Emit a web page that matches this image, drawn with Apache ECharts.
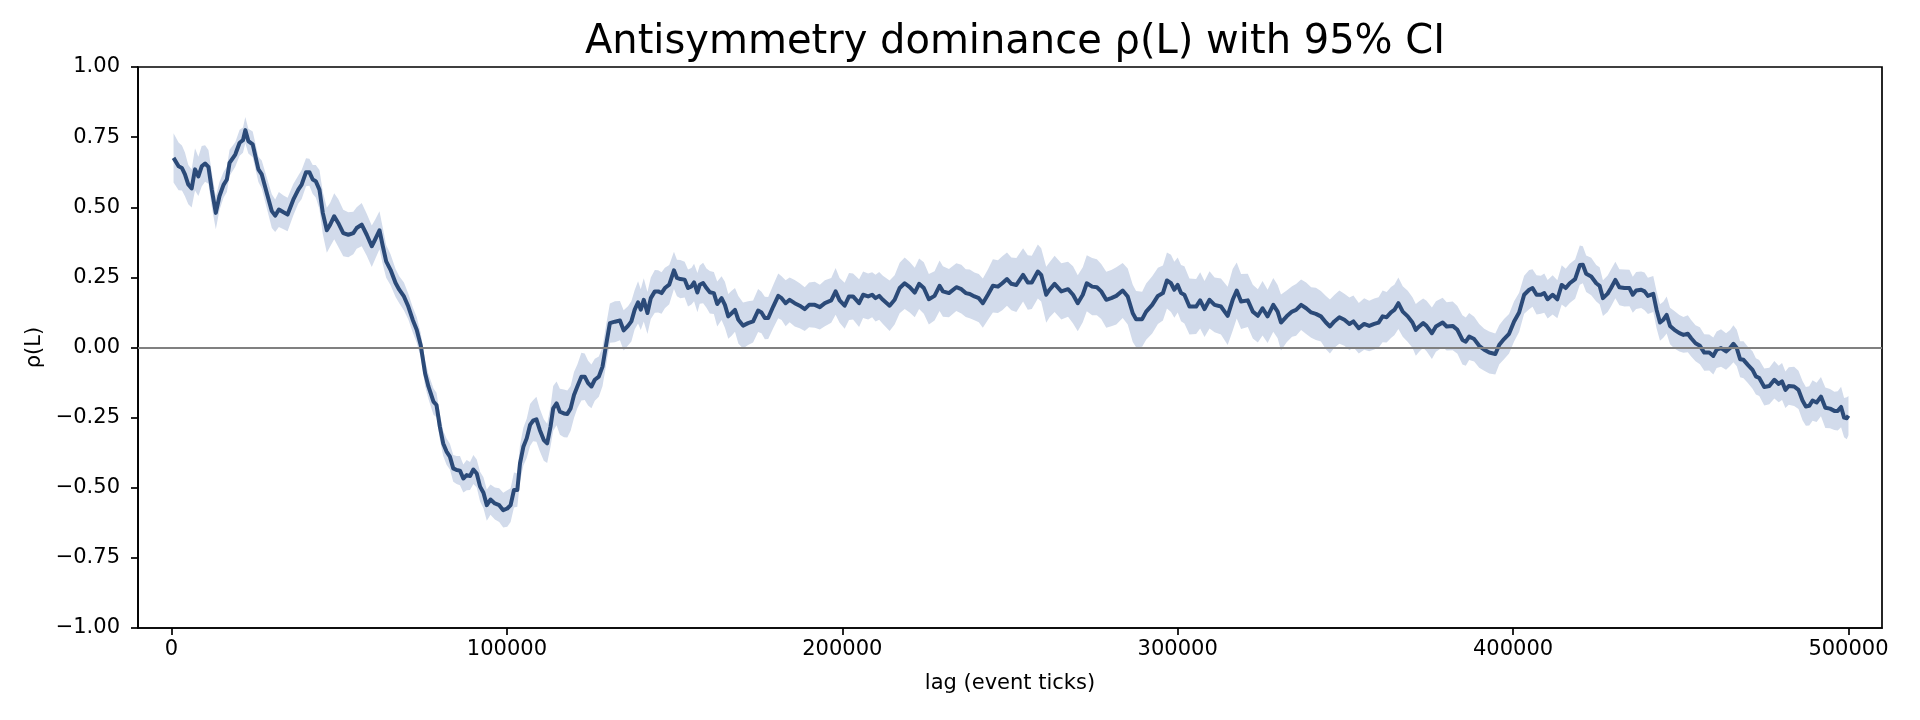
<!DOCTYPE html>
<html>
<head>
<meta charset="utf-8">
<script src="https://cdn.jsdelivr.net/npm/echarts@6/dist/echarts.min.js"></script>
<style>
html,body{margin:0;padding:0;background:#fff;}
#chart{width:1920px;height:720px;}
</style>
</head>
<body>
<div id="chart"></div>
<script>
// ---- data ----
const lagTicks = [
600,2100,3100,4000,5000,6000,7000,8000,9000,10000,
11000,12000,13200,14300,15500,16500,17300,19000,20300,21300,
22000,22900,24200,25900,26900,28400,29900,30900,32000,33400,
34600,36300,37800,38800,40100,41100,42100,43000,44100,45100,
46300,47300,48500,49700,51200,52700,54200,55200,56700,58200,
59700,60700,62000,63000,64000,65300,66800,67900,69300,70600,
71900,73100,74300,75600,76600,78100,79000,80000,81000,82000,
83000,84000,85000,86000,87000,88000,89000,90000,91000,92000,
93000,94000,95100,96400,97700,98900,100100,101100,102100,103100,
103900,104900,105900,106900,107800,108800,109800,111000,112000,113000,
113800,114800,115800,117000,118000,119000,120000,121000,122200,123200,
124200,125200,126200,127400,128500,129500,130700,132200,133700,134800,
136100,137100,138100,139100,139900,140800,141900,142900,144100,145100,
146100,147100,148400,149800,150700,151700,153000,154000,155000,155800,
156800,157500,158500,159500,160500,161700,162700,164000,165000,166000,
167000,168000,169000,170400,171900,173400,174900,175900,176900,177900,
179400,180900,181900,183100,184300,185800,187300,188800,190100,191800,
193300,194800,196700,198000,199200,200700,202000,203200,205000,206200,
207700,208900,209900,211000,212100,214100,215600,217100,218600,220100,
221600,222900,224300,225800,227500,229000,230000,231800,234000,235500,
236800,238000,239400,240700,241900,243400,244900,246400,247700,249100,
250400,251900,253900,255300,256500,258300,259300,260800,261800,263300,
265300,267300,268800,270200,271700,272900,274500,275900,277200,278700,
280200,281700,283600,285100,286600,287600,289400,290600,292400,294100,
295600,296800,298000,299000,300000,301000,302000,303500,305500,306700,
308000,309500,311000,312900,314900,316400,317600,318900,320900,322400,
323900,325300,326800,328500,329800,330800,332500,334100,335300,336800,
338300,339800,341200,342700,344200,345400,346700,348200,349700,351200,
352400,354000,355600,357100,358600,359900,361100,362300,363600,364600,
365800,367100,368600,370000,371000,372000,373200,374200,375800,377000,
379000,380200,382000,383400,384900,385900,386900,388400,389900,391400,
392900,394700,395900,397300,398800,400300,401800,403300,404800,405800,
407000,408300,409300,410300,411800,413200,414500,415700,416900,418500,
419900,420800,421800,423300,424800,425800,426800,428200,429200,430500,
431700,433200,434700,435700,436700,438200,439200,440200,441800,442800,
443800,444800,445800,446800,448100,449600,450800,452100,453100,454400,
455700,457000,458500,459700,460700,462000,463500,464700,465700,466700,
467700,468700,470000,471400,472400,473400,474900,476400,477900,479200,
480200,481200,482200,483800,485100,486300,487300,488300,489300,490500,
491800,493100,494500,495800,496800,497800,498700,499500,500000
];

const rhoValues = [
0.676,0.646,0.64,0.617,0.581,0.567,0.635,0.61,0.646,0.656,
0.644,0.563,0.48,0.54,0.58,0.599,0.658,0.688,0.73,0.739,
0.775,0.736,0.724,0.635,0.617,0.551,0.486,0.47,0.492,0.482,
0.474,0.527,0.563,0.581,0.625,0.625,0.599,0.593,0.563,0.48,
0.418,0.438,0.468,0.444,0.408,0.402,0.408,0.426,0.438,0.402,
0.361,0.385,0.418,0.361,0.307,0.277,0.23,0.206,0.182,0.146,
0.099,0.063,0.008,-0.092,-0.139,-0.193,-0.205,-0.282,-0.342,-0.371,
-0.389,-0.431,-0.437,-0.439,-0.467,-0.455,-0.458,-0.435,-0.449,-0.496,
-0.518,-0.562,-0.542,-0.556,-0.562,-0.58,-0.574,-0.562,-0.508,-0.508,
-0.413,-0.354,-0.324,-0.276,-0.261,-0.256,-0.294,-0.33,-0.342,-0.282,
-0.217,-0.199,-0.229,-0.235,-0.237,-0.217,-0.169,-0.139,-0.104,-0.104,
-0.127,-0.139,-0.115,-0.104,-0.068,0.004,0.087,0.092,0.096,0.061,
0.077,0.093,0.135,0.161,0.135,0.17,0.123,0.176,0.2,0.2,
0.194,0.212,0.224,0.275,0.248,0.244,0.242,0.212,0.218,0.232,
0.196,0.224,0.23,0.212,0.197,0.194,0.155,0.176,0.152,0.111,
0.122,0.134,0.099,0.078,0.087,0.093,0.132,0.125,0.105,0.105,
0.146,0.184,0.176,0.158,0.17,0.158,0.149,0.137,0.152,0.152,
0.144,0.158,0.168,0.2,0.168,0.149,0.182,0.182,0.158,0.188,
0.182,0.188,0.176,0.184,0.17,0.149,0.17,0.212,0.229,0.215,
0.196,0.227,0.212,0.172,0.184,0.22,0.2,0.194,0.215,0.208,
0.194,0.191,0.182,0.176,0.158,0.188,0.22,0.217,0.229,0.244,
0.227,0.223,0.259,0.232,0.232,0.271,0.259,0.188,0.206,0.227,
0.2,0.208,0.188,0.158,0.188,0.229,0.217,0.215,0.2,0.17,
0.176,0.184,0.203,0.182,0.122,0.101,0.101,0.128,0.152,0.184,
0.194,0.239,0.229,0.206,0.223,0.194,0.188,0.146,0.146,0.168,
0.137,0.17,0.152,0.146,0.113,0.17,0.203,0.164,0.168,0.128,
0.113,0.14,0.111,0.152,0.128,0.089,0.111,0.128,0.134,0.152,
0.14,0.125,0.12,0.111,0.089,0.075,0.093,0.108,0.099,0.084,
0.093,0.069,0.084,0.077,0.084,0.089,0.111,0.108,0.125,0.134,
0.158,0.128,0.111,0.089,0.063,0.075,0.087,0.077,0.051,0.075,
0.089,0.075,0.077,0.063,0.027,0.021,0.039,0.03,0.006,-0.008,
-0.018,-0.023,0.01,0.03,0.049,0.093,0.125,0.188,0.206,0.212,
0.188,0.188,0.194,0.172,0.188,0.172,0.223,0.212,0.229,0.244,
0.294,0.295,0.263,0.253,0.229,0.22,0.176,0.192,0.212,0.241,
0.215,0.212,0.212,0.188,0.203,0.206,0.2,0.184,0.191,0.134,
0.089,0.099,0.116,0.077,0.063,0.051,0.045,0.049,0.033,0.015,
0.006,-0.018,-0.018,-0.03,-0.008,-0.002,-0.014,-0.002,0.013,-0.002,
-0.042,-0.044,-0.062,-0.08,-0.103,-0.109,-0.141,-0.137,-0.115,-0.13,
-0.121,-0.151,-0.137,-0.139,-0.151,-0.189,-0.21,-0.208,-0.189,-0.196,
-0.175,-0.215,-0.218,-0.226,-0.226,-0.212,-0.25,-0.252,-0.243
];

// half-width of the 95% CI band at each lag
const ciHalfWidth = [
0.088,0.085,0.08,0.078,0.07,0.068,0.075,0.07,0.072,0.065,
0.06,0.062,0.058,0.05,0.046,0.045,0.047,0.044,0.046,0.045,
0.047,0.044,0.046,0.045,0.05,0.055,0.06,0.058,0.062,0.06,
0.06,0.056,0.05,0.052,0.05,0.048,0.052,0.058,0.07,0.075,
0.08,0.078,0.082,0.085,0.083,0.08,0.076,0.074,0.077,0.075,
0.074,0.07,0.068,0.065,0.058,0.055,0.05,0.048,0.05,0.046,
0.045,0.046,0.044,0.046,0.045,0.047,0.044,0.046,0.045,0.047,
0.046,0.048,0.05,0.052,0.05,0.054,0.05,0.052,0.05,0.053,
0.055,0.056,0.054,0.057,0.06,0.062,0.065,0.06,0.062,0.06,
0.065,0.068,0.07,0.075,0.073,0.08,0.076,0.074,0.07,0.072,
0.08,0.078,0.082,0.085,0.084,0.08,0.082,0.078,0.085,0.083,
0.08,0.078,0.075,0.072,0.07,0.072,0.07,0.073,0.07,0.072,
0.07,0.072,0.07,0.075,0.073,0.077,0.075,0.074,0.076,0.075,
0.074,0.072,0.07,0.066,0.065,0.068,0.064,0.066,0.065,0.067,
0.07,0.068,0.072,0.07,0.076,0.075,0.08,0.078,0.082,0.08,
0.08,0.078,0.085,0.082,0.078,0.075,0.077,0.074,0.076,0.075,
0.077,0.08,0.078,0.082,0.08,0.083,0.08,0.078,0.08,0.082,
0.08,0.082,0.08,0.083,0.08,0.082,0.084,0.082,0.085,0.083,
0.082,0.08,0.083,0.085,0.086,0.09,0.088,0.09,0.092,0.09,
0.088,0.09,0.092,0.09,0.088,0.09,0.09,0.086,0.085,0.087,
0.085,0.087,0.085,0.086,0.088,0.09,0.095,0.094,0.096,0.095,
0.094,0.096,0.095,0.097,0.095,0.096,0.095,0.1,0.098,0.1,
0.1,0.098,0.102,0.1,0.098,0.1,0.102,0.1,0.098,0.1,
0.1,0.102,0.098,0.1,0.102,0.1,0.098,0.1,0.102,0.1,
0.098,0.1,0.102,0.1,0.098,0.1,0.102,0.1,0.098,0.1,
0.1,0.102,0.098,0.1,0.104,0.11,0.1,0.098,0.095,0.096,
0.095,0.097,0.095,0.096,0.095,0.1,0.092,0.09,0.092,0.09,
0.092,0.09,0.093,0.09,0.095,0.096,0.094,0.095,0.093,0.094,
0.092,0.09,0.092,0.09,0.091,0.09,0.092,0.09,0.091,0.09,
0.092,0.09,0.091,0.09,0.092,0.09,0.088,0.09,0.092,0.09,
0.088,0.086,0.087,0.085,0.088,0.086,0.084,0.08,0.078,0.075,
0.075,0.073,0.07,0.072,0.07,0.072,0.07,0.068,0.07,0.067,
0.07,0.068,0.07,0.069,0.07,0.068,0.07,0.069,0.07,0.07,
0.07,0.066,0.065,0.067,0.065,0.066,0.064,0.065,0.066,0.065,
0.064,0.066,0.065,0.064,0.066,0.065,0.067,0.065,0.064,0.066,
0.065,0.064,0.066,0.065,0.067,0.065,0.064,0.066,0.065,0.064,
0.066,0.065,0.064,0.066,0.065,0.067,0.065,0.064,0.066,0.065,
0.064,0.066,0.065,0.067,0.065,0.064,0.066,0.065,0.067,0.065,
0.066,0.065,0.067,0.07,0.068,0.07,0.069,0.07,0.072,0.07,
0.07,0.072,0.07,0.068,0.07,0.072,0.07,0.075,0.07
];

const xTickValues = [0, 100000, 200000, 300000, 400000, 500000];
const titleText = 'Antisymmetry dominance ρ(L) with 95% CI';
const xAxisTitle = 'lag (event ticks)';
const yAxisTitle = 'ρ(L)';

// ---- build series data ----
const lineData = lagTicks.map((x, i) => [x, rhoValues[i]]);
const bandData = lagTicks.map((x, i) => [x, rhoValues[i] - ciHalfWidth[i], rhoValues[i] + ciHalfWidth[i]]);

const FONT = 'DejaVu Sans';
const chart = echarts.init(document.getElementById('chart'), null, {renderer: 'canvas'});

function renderBand(params, api) {
  if (params.dataIndex !== 0) return null;
  const upper = [];
  const lower = [];
  for (let i = 0; i < bandData.length; i++) {
    lower.push(api.coord([bandData[i][0], bandData[i][1]]));
    upper.push(api.coord([bandData[i][0], bandData[i][2]]));
  }
  const pts = lower.concat(upper.reverse());
  return {
    type: 'polygon',
    shape: {points: pts},
    style: {fill: '#d2dbeb', stroke: null},
    silent: true
  };
}

chart.setOption({
  animation: false,
  backgroundColor: '#ffffff',
  textStyle: {fontFamily: FONT},
  title: {
    text: titleText,
    left: 1010,
    top: 18,
    textAlign: 'center',
    textStyle: {fontFamily: FONT, fontSize: 40, fontWeight: 'normal', color: '#000'}
  },
  grid: {
    left: 138, right: 38, top: 67, bottom: 92,
    show: true, borderColor: '#000', borderWidth: 1.7, backgroundColor: 'transparent'
  },
  xAxis: {
    type: 'value',
    min: -10000, max: 510000,
    name: xAxisTitle,
    nameLocation: 'middle',
    nameGap: 45,
    nameTextStyle: {fontFamily: FONT, fontSize: 21, color: '#000'},
    splitLine: {show: false},
    axisLine: {show: true, onZero: false, lineStyle: {color: '#000', width: 1.7}},
    axisTick: {show: true, customValues: xTickValues, length: 7, lineStyle: {color: '#000', width: 1.7}},
    axisLabel: {
      customValues: xTickValues, margin: 11,
      fontFamily: FONT, fontSize: 21, color: '#000',
      formatter: v => String(v)
    }
  },
  yAxis: {
    type: 'value',
    min: -1, max: 1, interval: 0.25,
    name: yAxisTitle,
    nameLocation: 'middle',
    nameRotate: 90,
    nameGap: 90,
    nameTextStyle: {fontFamily: FONT, fontSize: 21, color: '#000'},
    splitLine: {show: false},
    axisLine: {show: true, onZero: false, lineStyle: {color: '#000', width: 1.7}},
    axisTick: {show: true, length: 7, lineStyle: {color: '#000', width: 1.7}},
    axisLabel: {
      margin: 18,
      fontFamily: FONT, fontSize: 21, color: '#000',
      formatter: v => v.toFixed(2).replace('-', '\u2212')
    }
  },
  series: [
    {
      name: 'ci95', type: 'custom',
      data: bandData,
      encode: {x: 0, y: [1, 2]},
      renderItem: renderBand,
      silent: true,
      z: 1
    },
    {
      name: 'zero', type: 'line', data: [],
      silent: true, z: 2,
      markLine: {
        silent: true, symbol: 'none', animation: false,
        label: {show: false},
        lineStyle: {color: '#808080', width: 1.8, type: 'solid'},
        data: [{yAxis: 0}]
      }
    },
    {
      name: 'rho', type: 'line', data: lineData,
      symbol: 'none', z: 3,
      lineStyle: {color: '#2b4a78', width: 4, join: 'round'}
    }
  ]
});
</script>
</body>
</html>
